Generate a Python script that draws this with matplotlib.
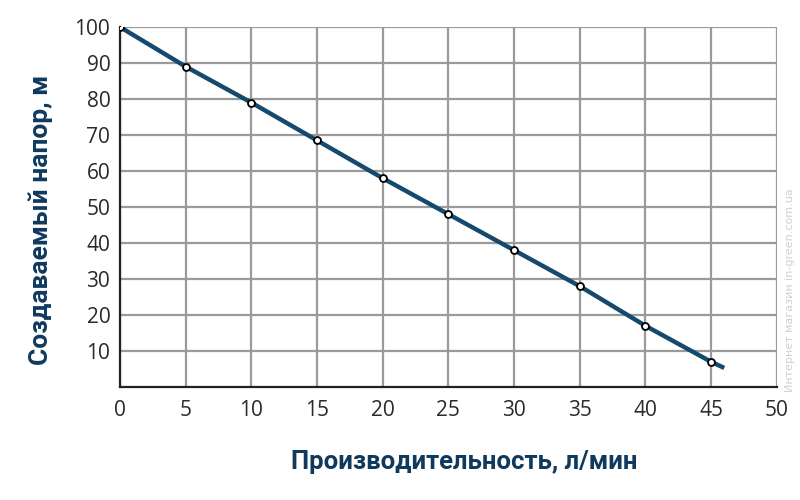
import numpy as np
import matplotlib.pyplot as plt

# Расход (л/мин) и напор (м)
rashod = [0, 5, 10, 15, 20, 25, 30, 35, 40, 45]
napor = [100, 89, 79, 68.5, 58, 48, 38, 28, 17, 7]
# линия продолжается чуть дальше последней точки
rashod_line = rashod + [46]
napor_line = napor + [5.3]

x_ticks = [0, 5, 10, 15, 20, 25, 30, 35, 40, 45, 50]
y_ticks = [10, 20, 30, 40, 50, 60, 70, 80, 90, 100]

renk = "#154a6e"
yazi = "#0f3a5e"

fig = plt.figure(figsize=(8, 5), dpi=100)
ax = fig.add_axes([0.15, 0.226, 0.821, 0.72])

ax.plot(rashod_line, napor_line, color=renk, linewidth=3.2, solid_capstyle="butt", zorder=3)
ax.plot(rashod, napor, "o", markersize=5, markerfacecolor="white",
        markeredgecolor="black", markeredgewidth=1.3, zorder=4)

ax.set_xlim(0, 50)
ax.set_ylim(0, 100)
ax.set_xticks(x_ticks)
ax.set_yticks(y_ticks)
ax.grid(True, color="#9a9a9a", linewidth=1.6, zorder=1)
ax.set_axisbelow(True)

for s in ["top", "right"]:
    ax.spines[s].set_visible(False)
ax.spines["left"].set_color("#222222")
ax.spines["bottom"].set_color("#222222")
ax.spines["left"].set_linewidth(1.6)
ax.spines["bottom"].set_linewidth(1.6)

ax.tick_params(length=0, labelsize=15, labelcolor="#2a2a2a")
ax.tick_params(axis="x", pad=9)
ax.tick_params(axis="y", pad=7)
for t in ax.get_xticklabels() + ax.get_yticklabels():
    t.set_family("Open Sans")

ax.set_xlabel("Производительность, л/мин", fontsize=18.5, fontweight="bold",
              color=yazi, family="Roboto")
ax.set_ylabel("Создаваемый напор, м", fontsize=19, fontweight="bold",
              color=yazi, family="Roboto")
ax.xaxis.set_label_coords(0.524, -0.175)
ax.yaxis.set_label_coords(-0.102, 0.464)

fig.text(0.988, 0.42, "Интернет магазин in-green.com.ua", rotation=90,
         fontsize=8, color="#d0d0d0", ha="center", va="center")

fig.savefig("out.png", dpi=100)
